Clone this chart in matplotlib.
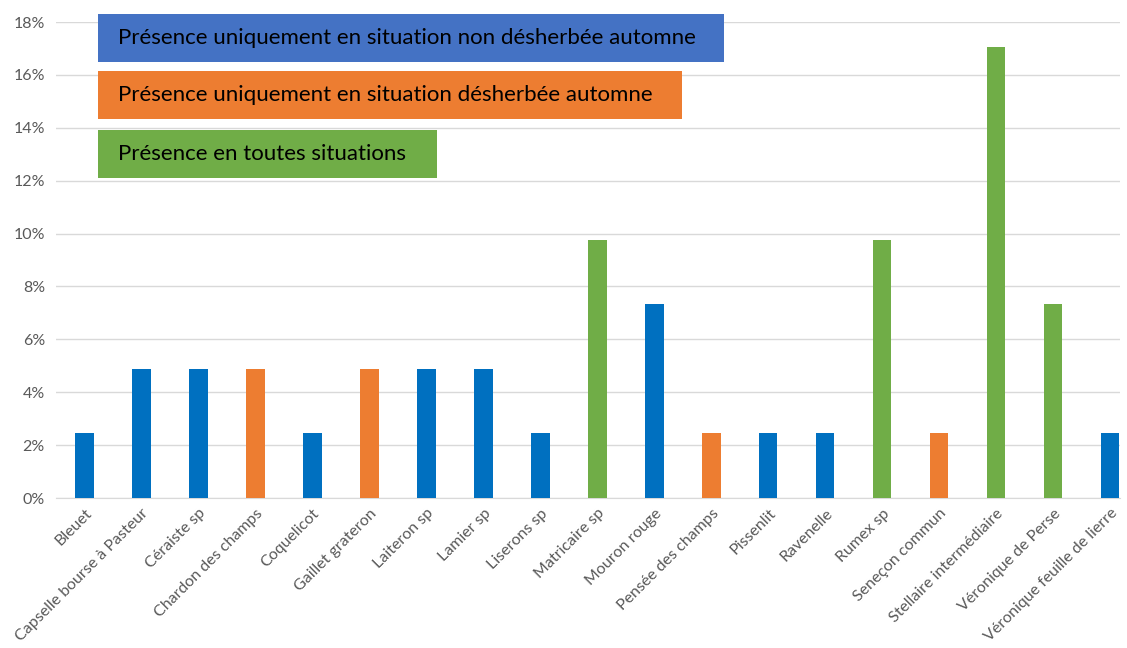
import matplotlib.pyplot as plt
from matplotlib.patches import Rectangle
from matplotlib.ticker import FuncFormatter

plt.rcParams['font.family'] = ['Lato', 'DejaVu Sans']

especes = ['Bleuet', 'Capselle bourse à Pasteur', 'Céraiste sp', 'Chardon des champs',
           'Coquelicot', 'Gaillet grateron', 'Laiteron sp', 'Lamier sp', 'Liserons sp',
           'Matricaire sp', 'Mouron rouge', 'Pensée des champs', 'Pissenlit', 'Ravenelle',
           'Rumex sp', 'Seneçon commun', 'Stellaire intermédiaire', 'Véronique de Perse',
           'Véronique feuille de lierre']
frequences = [2.44, 4.88, 4.88, 4.88, 2.44, 4.88, 4.88, 4.88, 2.44, 9.76, 7.32,
              2.44, 2.44, 2.44, 9.76, 2.44, 17.07, 7.32, 2.44]
# 0 = non désherbée seulement, 1 = désherbée seulement, 2 = toutes situations
groupe = [0, 0, 0, 1, 0, 1, 0, 0, 0, 2, 0, 1, 0, 0, 2, 1, 2, 2, 0]

couleurs_barres = ['#0070C0', '#ED7D31', '#70AD47']
legende = ['Présence uniquement en situation non désherbée automne',
           'Présence uniquement en situation désherbée automne',
           'Présence en toutes situations']
couleurs_legende = ['#4472C4', '#ED7D31', '#70AD47']

W, H = 1127, 648
fig = plt.figure(figsize=(W / 100, H / 100), dpi=100)
ax = fig.add_axes([56 / W, 1 - 498 / H, (1120 - 56) / W, (498 - 22) / H])

x = list(range(len(especes)))
ax.bar(x, frequences, width=0.32, color=[couleurs_barres[g] for g in groupe], zorder=3)

ax.set_xlim(-0.5, 18.17)
ax.set_ylim(0, 18)
ax.set_yticks(range(0, 19, 2))
ax.yaxis.set_major_formatter(FuncFormatter(lambda v, p: f'{v:.0f}%'))
ax.grid(axis='y', color='#D9D9D9', linewidth=1, zorder=0)
for s in ['top', 'right', 'left']:
    ax.spines[s].set_visible(False)
ax.spines['bottom'].set_color('#D9D9D9')
ax.tick_params(axis='both', length=0, colors='#595959', labelsize=11.5)
ax.set_xticks(x)
ax.set_xticklabels(especes, rotation=45, ha='right', rotation_mode='anchor')
ax.tick_params(axis='x', pad=6)
ax.tick_params(axis='y', pad=8)

# boites de légende
boites = [(98, 14, 724, 62), (98, 71, 682, 119), (98, 130, 437, 178)]
for (x0, y0, x1, y1), txt, c in zip(boites, legende, couleurs_legende):
    fig.patches.append(Rectangle((x0 / W, 1 - y1 / H), (x1 - x0) / W, (y1 - y0) / H,
                                 transform=fig.transFigure, facecolor=c, edgecolor='none',
                                 zorder=5))
    fig.text(118 / W, 1 - (y0 + y1) / 2 / H, txt, fontsize=16, color='black',
             va='center', ha='left', zorder=6)

plt.savefig('out.png', dpi=100)
